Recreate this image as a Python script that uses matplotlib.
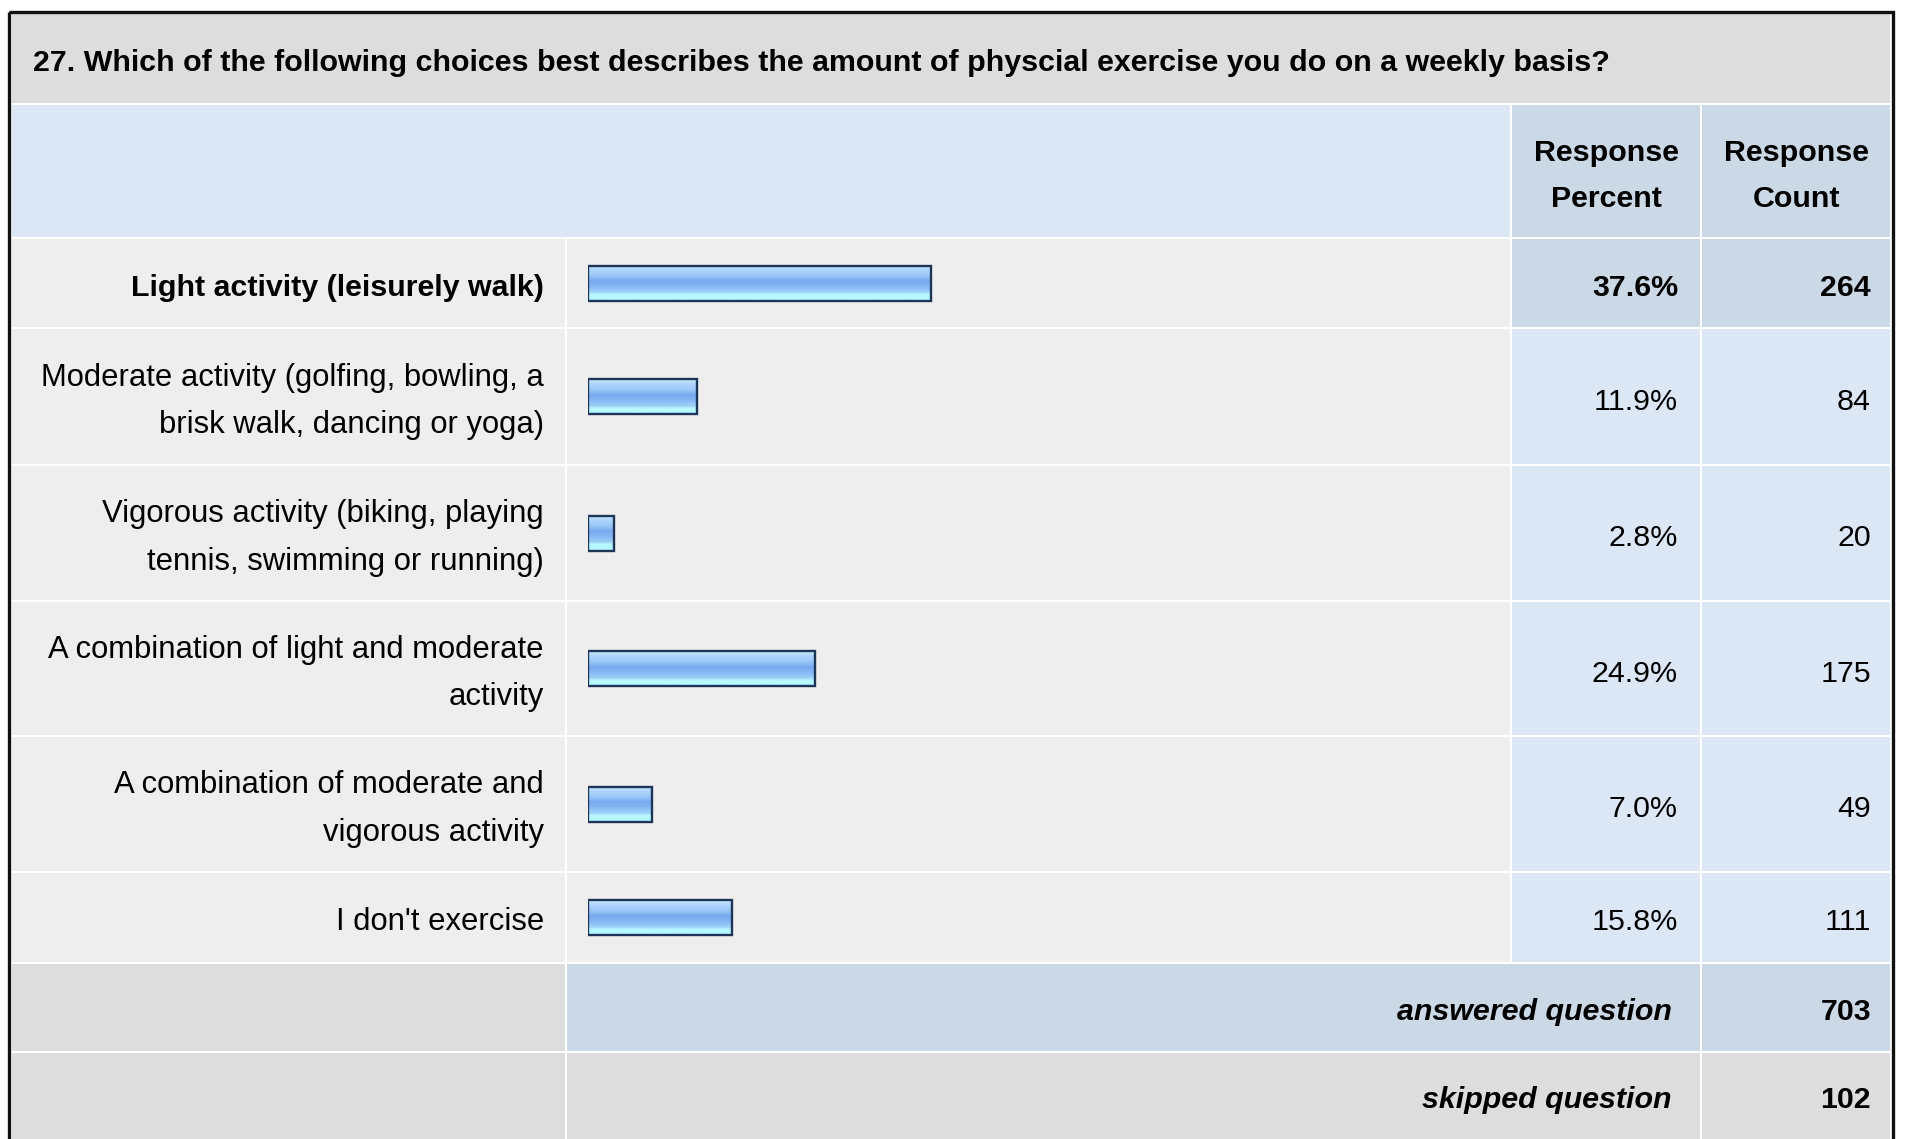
import numpy as np
import matplotlib
matplotlib.use("Agg")
import matplotlib.pyplot as plt
from matplotlib.patches import Rectangle
from matplotlib.colors import to_rgb

plt.rcParams['font.family'] = ['Liberation Sans', 'DejaVu Sans']

title = "27. Which of the following choices best describes the amount of physcial exercise you do on a weekly basis?"
answers = [
    "Light activity (leisurely walk)",
    "Moderate activity (golfing, bowling, a\nbrisk walk, dancing or yoga)",
    "Vigorous activity (biking, playing\ntennis, swimming or running)",
    "A combination of light and moderate\nactivity",
    "A combination of moderate and\nvigorous activity",
    "I don't exercise",
]
percent = [37.6, 11.9, 2.8, 24.9, 7.0, 15.8]
count = [264, 84, 20, 175, 49, 111]
answered = 703
skipped = 102

W, H = 1907, 1139
fig = plt.figure(figsize=(W / 100, H / 100), dpi=100)
ax = fig.add_axes([0, 0, 1, 1])
ax.set_xlim(0, W)
ax.set_ylim(H, 0)
ax.axis("off")

GREY = "#dddddd"
ROW = "#eeeeee"
BLUE = "#dce7f5"
BLUE2 = "#cbd8e6"
FS = 21.9

# column edges (px)
x_left, x_lab, x_pct, x_cnt, x_right = 11, 566, 1511, 1701, 1891
# row edges (px)
y_title, y_head = 14, 104
row_edges = [238, 328, 465, 601, 736, 872, 963]
y_ans, y_skip, y_end = 963, 1052, 1145


def cell(x0, x1, y0, y1, color):
    ax.add_patch(Rectangle((x0 + 1, y0 + 1), x1 - x0 - 2, y1 - y0 - 2,
                           facecolor=color, edgecolor="none", zorder=1))


# title + header
cell(x_left, x_right, y_title - 1, y_head, GREY)
cell(x_left, x_pct, y_head, row_edges[0], BLUE)
cell(x_pct, x_cnt, y_head, row_edges[0], BLUE2)
cell(x_cnt, x_right, y_head, row_edges[0], BLUE2)
ax.text(33, 63, title, fontsize=FS, fontweight="bold", va="center", ha="left", zorder=3)
for xc, (a, b) in [((x_pct + x_cnt) / 2, ("Response", "Percent")),
                   ((x_cnt + x_right) / 2, ("Response", "Count"))]:
    ax.text(xc, 153, a, fontsize=FS, fontweight="bold", ha="center", va="center", zorder=3)
    ax.text(xc, 199, b, fontsize=FS, fontweight="bold", ha="center", va="center", zorder=3)

# answer rows
centers = []
for i, (lab, p, c) in enumerate(zip(answers, percent, count)):
    y0, y1 = row_edges[i], row_edges[i + 1]
    yc = (y0 + y1) / 2
    centers.append(yc)
    top = i == int(np.argmax(percent))
    cell(x_left, x_lab, y0, y1, ROW)
    cell(x_lab, x_pct, y0, y1, ROW)
    cell(x_pct, x_cnt, y0, y1, BLUE2 if top else BLUE)
    cell(x_cnt, x_right, y0, y1, BLUE2 if top else BLUE)
    fw = "bold" if top else "normal"
    ax.text(544, yc + 5, lab, fontsize=FS if top else 22.3, fontweight=fw, ha="right",
            va="center", linespacing=1.74, zorder=3)
    ax.text(1678, yc + 5, f"{p:.1f}%", fontsize=FS, fontweight=fw, ha="right", va="center", zorder=3)
    ax.text(1871, yc + 5, str(c), fontsize=FS, fontweight=fw, ha="right", va="center", zorder=3)

# footer rows
cell(x_left, x_lab, y_ans, y_skip, GREY)
cell(x_lab, x_cnt, y_ans, y_skip, BLUE2)
cell(x_cnt, x_right, y_ans, y_skip, BLUE2)
cell(x_left, x_lab, y_skip, y_end, GREY)
cell(x_lab, x_cnt, y_skip, y_end, GREY)
cell(x_cnt, x_right, y_skip, y_end, GREY)
for yc, lab, v in [((y_ans + y_skip) / 2 + 4, "answered question", answered),
                   ((y_skip + 1139) / 2 + 5, "skipped question", skipped)]:
    ax.text(1672, yc, lab, fontsize=FS, fontweight="bold", style="italic",
            ha="right", va="center", zorder=3)
    ax.text(1871, yc, str(v), fontsize=FS, fontweight="bold", ha="right", va="center", zorder=3)

# outer frame
ax.add_patch(Rectangle((8.5, 11.5), 1884, 1140, facecolor="none", edgecolor="#111111",
                       linewidth=2.4, zorder=4))

# bars: 0-100 % mapped over the bar column
bax = fig.add_axes([588 / W, 0, 912 / W, 1])
bax.set_xlim(0, 100)
bax.set_ylim(H, 0)
bax.axis("off")
bar_h = 35
stops = [(0.0, "#d2eaff"), (0.12, "#b0d6fc"), (0.3, "#9cc8f8"), (0.45, "#78aaf0"),
         (0.62, "#86b8f4"), (0.78, "#a2d2fa"), (0.84, "#b6f8ff"), (1.0, "#b6f8ff")]
t = np.linspace(0, 1, 64)
grad = np.stack([np.interp(t, [s for s, _ in stops], [to_rgb(c)[k] for _, c in stops])
                 for k in range(3)], axis=-1)[:, None, :]
bars = bax.barh(centers, percent, height=bar_h, facecolor="none", edgecolor="#1c3657",
                linewidth=1.7, zorder=3)
for b in bars:
    x0, y0 = b.get_x(), b.get_y()
    im = bax.imshow(grad, extent=(x0, x0 + b.get_width(), y0 + b.get_height(), y0),
                    aspect="auto", zorder=2, interpolation="bilinear")
    im.set_clip_path(b)
bax.set_xlim(0, 100)
bax.set_ylim(H, 0)

fig.savefig("out.png", dpi=100)
